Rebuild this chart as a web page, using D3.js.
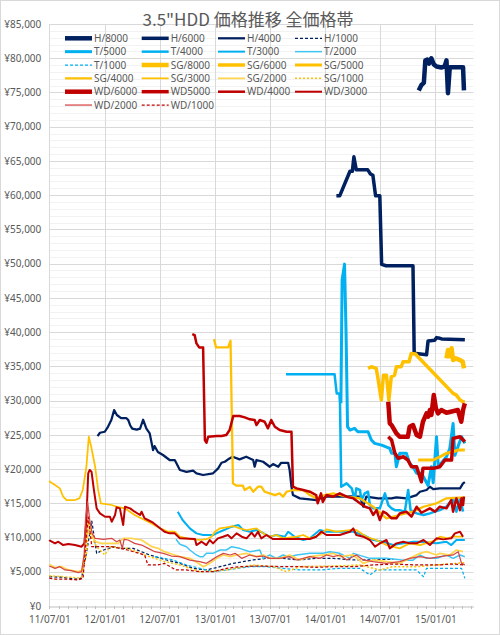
<!DOCTYPE html>
<html><head><meta charset="utf-8">
<script src="https://cdn.jsdelivr.net/npm/d3@7"></script>
<style>body{margin:0;background:#fff}svg{display:block}</style>
</head><body>
<script>
// ---- data: [date, price in yen] ----
const H8000=[["2014-11-07",75300],["2014-11-16",76100],["2014-11-24",76400],["2014-11-29",79700],["2014-12-05",79800],["2014-12-11",79200],["2014-12-19",80000],["2014-12-27",79100],["2015-01-05",78800],["2015-01-21",78650],["2015-02-01",78800],["2015-02-07",79700],["2015-02-12",74900],["2015-02-18",78700],["2015-04-03",78700],["2015-04-06",75300]];
const H6000=[["2014-02-07",59900],["2014-02-18",59900],["2014-03-24",63500],["2014-04-01",63500],["2014-04-06",65600],["2014-04-14",63700],["2014-05-22",63700],["2014-05-31",63100],["2014-06-08",62900],["2014-06-17",59900],["2014-07-01",59900],["2014-07-07",49900],["2014-07-22",49700],["2014-10-19",49700],["2014-10-23",36900],["2014-12-03",36700],["2014-12-08",38700],["2014-12-30",38800],["2015-01-05",39200],["2015-01-16",39100],["2015-01-22",39000],["2015-04-09",38900]];
const H4000=[["2011-12-08",24800],["2011-12-16",25300],["2012-01-01",25450],["2012-01-12",26200],["2012-01-23",27200],["2012-02-01",28600],["2012-02-10",27900],["2012-02-24",27450],["2012-03-12",27450],["2012-03-19",27150],["2012-03-25",26400],["2012-04-01",25900],["2012-04-16",25750],["2012-04-27",25900],["2012-05-07",27200],["2012-05-18",25900],["2012-05-29",25200],["2012-06-09",22780],["2012-06-14",23360],["2012-06-25",22500],["2012-07-12",22050],["2012-08-03",21320],["2012-08-20",21320],["2012-09-06",19860],["2012-09-28",19600],["2012-10-20",19760],["2012-10-31",19380],["2012-11-22",19130],["2012-12-25",19380],["2013-01-11",20100],["2013-01-22",20920],["2013-02-02",21070],["2013-02-13",21420],["2013-02-28",21800],["2013-03-23",21420],["2013-04-14",21800],["2013-05-07",21320],["2013-05-12",20340],["2013-05-18",21320],["2013-06-09",21070],["2013-07-01",20340],["2013-07-12",20730],["2013-07-29",20340],["2013-08-08",20920],["2013-08-31",20920],["2013-09-05",19860],["2013-09-11",17420],["2013-09-16",16200],["2013-10-09",15720],["2013-11-10",15570],["2013-12-02",15480],["2013-12-31",15960],["2014-01-25",15960],["2014-03-24",16000],["2014-04-26",15960],["2014-05-07",14500],["2014-05-17",15960],["2014-06-25",15720],["2014-08-09",15720],["2014-08-25",15870],["2014-09-27",15720],["2014-10-31",16200],["2014-11-11",16690],["2014-12-03",16940],["2014-12-14",17420],["2014-12-25",17060],["2015-01-16",17180],["2015-03-24",17180],["2015-04-03",17910],["2015-04-09",18100]];
const H1000=[["2011-07-01",4280],["2011-08-10",4200],["2011-10-05",3900],["2011-10-16",4100],["2011-11-01",7700],["2011-11-19",12400],["2011-12-05",7700],["2011-12-23",8100],["2012-01-12",8400],["2012-02-03",8660],["2012-02-25",8420],["2012-04-04",8420],["2012-05-29",7450],["2012-07-24",6720],["2012-09-06",6230],["2012-10-20",5500],["2012-12-03",5260],["2013-01-17",5740],["2013-03-02",6230],["2013-05-07",6720],["2013-06-20",6960],["2013-08-14",6960],["2013-10-09",6720],["2013-12-02",6960],["2014-01-28",6960],["2014-04-04",6720],["2014-05-17",6720],["2014-07-12",6810],["2014-08-15",6810]];
const T5000=[["2014-02-22",29600],["2014-02-26",47600],["2014-03-06",49930],["2014-03-11",40000],["2014-03-16",26180],["2014-03-24",25700],["2014-04-08",25950],["2014-04-19",25450],["2014-05-23",25450],["2014-06-03",24240],["2014-06-14",23750],["2014-07-07",23500],["2014-08-03",23020],["2014-08-09",22300],["2014-08-20",22300],["2014-08-25",20340],["2014-09-05",22300],["2014-09-27",22300],["2014-10-08",20830],["2014-10-19",20340],["2014-10-31",19380],["2014-11-16",19380],["2014-11-27",18500],["2014-12-08",17600],["2014-12-19",20340],["2014-12-25",18000],["2015-01-05",24720],["2015-01-11",20340],["2015-02-07",21800],["2015-02-18",23000],["2015-03-01",26670],["2015-03-07",22000],["2015-03-29",24720],["2015-04-09",23750]];
const T4000=[["2013-08-24",33830],["2014-02-01",33830],["2014-02-08",31050],["2014-02-17",31050],["2014-02-19",29590],["2014-02-23",17420],["2014-03-13",17910],["2014-03-30",17180],["2014-04-09",15480],["2014-04-14",17180],["2014-04-26",16940],["2014-05-01",15480],["2014-05-12",16450],["2014-05-23",16690],["2014-05-29",14750],["2014-06-09",14260],["2014-07-01",14260],["2014-07-18",16450],["2014-07-29",14750],["2014-08-09",14260],["2014-08-20",14000],["2014-09-05",14000],["2014-09-22",13780],["2014-10-03",16940],["2014-10-11",14000],["2014-10-31",13530],["2014-11-23",13290],["2014-12-14",13530],["2014-12-31",13780],["2015-01-16",14000],["2015-02-07",14500],["2015-03-01",15720],["2015-03-12",13780],["2015-03-24",15720],["2015-04-03",13780]];
const T3000=[["2012-08-30",13780],["2012-09-15",12560],["2012-10-09",11340],["2012-10-31",10610],["2012-11-22",10370],["2012-12-25",10370],["2013-01-17",10850],["2013-02-20",11490],["2013-03-19",11830],["2013-04-04",11100],["2013-04-26",10850],["2013-05-18",11100],["2013-06-09",10660],["2013-07-01",10120],["2013-07-23",10370],["2013-08-20",10120],["2013-08-31",10850],["2013-09-22",10120],["2013-10-20",9640],["2013-11-11",9880],["2013-12-14",11100],["2014-01-05",10850],["2014-02-18",10850],["2014-04-04",10850],["2014-05-07",10370],["2014-06-09",9640],["2014-07-12",9390],["2014-08-14",8900],["2014-09-17",9150],["2014-10-19",9390],["2014-11-11",9390],["2015-01-05",9150],["2015-02-07",9390],["2015-02-23",8900],["2015-03-12",9640],["2015-04-09",9640]];
const T2000=[["2012-08-24",9740],["2012-09-06",9020],["2012-09-28",8660],["2012-10-09",8180],["2012-10-31",7450],["2012-11-11",7200],["2012-11-22",7200],["2012-12-03",7690],["2012-12-25",7690],["2013-01-17",8180],["2013-02-07",8180],["2013-02-25",8660],["2013-03-23",8420],["2013-04-26",7930],["2013-05-29",8180],["2013-06-09",6960],["2013-07-01",7450],["2013-07-23",6960],["2013-08-14",7450],["2013-09-05",7200],["2013-09-28",7450],["2013-11-11",7690],["2013-12-25",7690],["2014-01-16",7930],["2014-02-18",7690],["2014-03-24",6960],["2014-04-04",7690],["2014-05-29",6960],["2014-07-23",6960],["2014-09-17",6700],["2014-10-19",6700],["2014-11-11",7450],["2014-12-03",6960],["2015-01-05",6960],["2015-02-07",7450],["2015-03-01",6960],["2015-03-24",7450],["2015-04-09",7200]];
const T1000=[["2012-06-15",7200],["2012-08-14",6720],["2012-09-28",5990],["2012-11-11",5500],["2012-12-25",5010],["2013-02-07",5260],["2013-04-26",5740],["2013-06-20",5740],["2013-08-14",5500],["2013-10-09",5260],["2013-12-14",5260],["2014-02-18",5500],["2014-04-26",5500],["2014-05-29",4530],["2014-06-20",5260],["2014-09-05",5260],["2014-10-31",5260],["2014-11-23",4280],["2014-12-03",5500],["2015-03-01",5500],["2015-03-29",5500],["2015-04-09",4040]];
const SG8000=[["2015-02-07",36170],["2015-02-12",37390],["2015-02-20",36500],["2015-02-24",37630],["2015-03-01",35920],["2015-03-10",36170],["2015-03-24",35920],["2015-04-02",35670],["2015-04-06",34700]];
const SG6000=[["2014-05-23",34700],["2014-06-03",34940],["2014-06-19",34700],["2014-06-24",33480],["2014-07-06",30080],["2014-07-13",33700],["2014-07-23",33700],["2014-07-31",30080],["2014-08-08",33480],["2014-08-19",33700],["2014-08-25",34940],["2014-09-10",34940],["2014-09-16",35670],["2014-10-06",35670],["2014-10-13",36890],["2014-10-28",36790],["2014-11-02",36500],["2015-03-01",31050],["2015-03-12",30800],["2015-03-24",30080],["2015-04-03",29830],["2015-04-09",29830]];
const SG5000=[["2014-11-05",21320],["2014-12-25",21320],["2015-01-16",21800],["2015-02-07",22300],["2015-03-01",22530],["2015-03-18",22780],["2015-04-09",22780]];
const SG4000=[["2012-12-28",38980],["2013-01-04",37770],["2013-02-13",37770],["2013-02-21",38740],["2013-03-01",17910],["2013-03-12",17570],["2013-04-03",17570],["2013-04-09",16940],["2013-04-26",17400],["2013-05-07",16690],["2013-05-23",17420],["2013-06-03",17420],["2013-06-14",16690],["2013-07-01",16450],["2013-07-18",16200],["2013-08-03",16450],["2013-08-14",15960],["2013-08-26",16690],["2013-09-16",16940],["2013-10-20",16940],["2013-11-11",16200],["2013-12-02",15720],["2013-12-31",16200],["2014-01-28",16450],["2014-03-13",15960],["2014-04-26",15720],["2014-06-09",14500],["2014-07-23",12800],["2014-09-05",13290],["2014-10-19",13780],["2014-11-23",14500],["2015-01-05",15000],["2015-02-07",15720],["2015-04-09",15870]];
const SG3000=[["2011-07-01",18300],["2011-07-03",18150],["2011-07-20",17670],["2011-08-05",17180],["2011-08-16",15960],["2011-08-27",15480],["2011-09-24",15480],["2011-10-09",15720],["2011-10-20",16940],["2011-11-01",20340],["2011-11-09",24720],["2011-11-17",23260],["2011-11-30",20340],["2011-12-10",16940],["2011-12-19",14990],["2012-01-24",14750],["2012-02-09",14500],["2012-03-08",14260],["2012-04-09",13290],["2012-05-12",12560],["2012-06-04",12050],["2012-06-26",11490],["2012-07-29",10850],["2012-08-20",10850],["2012-09-06",10120],["2012-10-09",9760],["2012-11-11",9640],["2012-12-03",9760],["2012-12-20",10120],["2012-12-31",10850],["2013-01-17",11340],["2013-02-07",11490],["2013-03-02",11680],["2013-03-23",11340],["2013-04-15",11100],["2013-05-18",11340],["2013-06-09",10610],["2013-07-01",10120],["2013-07-23",10370],["2013-08-14",9880],["2013-09-28",10120],["2013-10-20",10370],["2013-11-11",9880],["2013-12-14",10400],["2014-01-05",11200],["2014-02-07",10850],["2014-03-24",11100],["2014-04-14",11100],["2014-05-17",10120],["2014-06-19",9640],["2014-07-23",8900],["2014-09-05",8420],["2014-10-08",9150],["2014-11-11",8900],["2015-01-05",9640],["2015-01-16",10120],["2015-02-12",9880],["2015-03-01",10120],["2015-04-03",10120]];
const SG2000=[["2011-07-01",6080],["2011-07-20",5600],["2011-08-11",5740],["2011-09-02",5260],["2011-10-05",5010],["2011-10-18",5260],["2011-10-27",7690],["2011-11-08",12500],["2011-11-19",10500],["2011-11-30",9390],["2011-12-21",9150],["2012-02-14",9150],["2012-03-02",9880],["2012-03-30",9880],["2012-05-02",9640],["2012-06-05",8660],["2012-06-26",8420],["2012-07-17",7930],["2012-08-20",7450],["2012-09-06",7200],["2012-10-09",6960],["2012-11-06",6230],["2012-11-23",5740],["2012-12-14",6230],["2013-01-06",6960],["2013-01-28",7450],["2013-02-20",7200],["2013-03-13",7450],["2013-04-15",7690],["2013-05-18",7200],["2013-06-09",7450],["2013-07-01",6960],["2013-08-03",6960],["2013-09-05",7450],["2013-10-09",6720],["2013-11-11",7200],["2013-12-25",7450],["2014-01-28",7690],["2014-02-18",7200],["2014-04-04",7450],["2014-05-07",6230],["2014-06-09",6720],["2014-07-23",6470],["2014-09-05",6230],["2014-10-08",6960],["2014-11-11",7690],["2014-12-03",7930],["2015-01-05",7450],["2015-01-16",7690],["2015-02-18",7450],["2015-03-12",8180],["2015-04-03",7930]];
const SG1000=[["2011-07-01",4400],["2011-08-10",4300],["2011-10-05",4100],["2011-10-16",4200],["2011-11-01",7500],["2011-11-07",11100],["2011-11-19",10000],["2011-12-05",8660],["2012-01-01",7450],["2012-01-18",8660],["2012-03-17",8420],["2012-05-12",7450],["2012-07-17",6500],["2012-09-06",6000],["2012-11-11",5010],["2013-02-07",5260],["2013-05-07",5990],["2013-07-12",5740],["2013-08-26",5010],["2013-10-09",5740],["2014-01-28",5840],["2014-04-26",5990],["2014-07-01",5260],["2014-08-13",5740],["2014-10-31",5740],["2015-01-05",5990],["2015-04-09",6330]];
const WD6000=[["2014-07-29",29830],["2014-08-03",26680],["2014-08-09",26430],["2014-08-25",25210],["2014-09-05",24720],["2014-10-02",24720],["2014-10-08",26180],["2014-10-19",26430],["2014-10-31",24970],["2014-11-11",24720],["2014-11-21",26910],["2014-12-03",28140],["2014-12-08",27650],["2014-12-14",28620],["2014-12-19",27900],["2014-12-27",30810],["2015-01-03",28870],["2015-01-10",28130],["2015-01-21",28620],["2015-02-07",28220],["2015-03-17",28620],["2015-03-28",26910],["2015-04-03",28620],["2015-04-09",29600]];
const WD5000=[["2014-07-29",24720],["2014-08-09",24240],["2014-08-20",22300],["2014-08-31",21570],["2014-09-17",21800],["2014-10-02",21320],["2014-10-14",20340],["2014-10-31",20340],["2014-11-16",18150],["2014-11-21",20100],["2014-12-25",20100],["2015-01-16",20340],["2015-02-02",21320],["2015-02-24",21320],["2015-03-01",24480],["2015-03-24",24720],["2015-04-09",23990]];
const WD4000=[["2012-10-17",39710],["2012-10-25",39560],["2012-10-31",38350],["2012-11-09",37770],["2012-11-22",37770],["2012-11-28",24240],["2012-12-03",23840],["2012-12-09",24720],["2013-01-06",24820],["2013-01-22",24820],["2013-02-07",24970],["2013-02-18",25700],["2013-03-02",27740],["2013-03-23",27740],["2013-04-09",27550],["2013-04-26",27260],["2013-05-12",27160],["2013-05-18",26430],["2013-05-29",27160],["2013-06-14",26910],["2013-06-25",25950],["2013-07-06",27160],["2013-07-18",26180],["2013-08-03",25700],["2013-08-26",25450],["2013-09-11",25450],["2013-09-16",17420],["2013-09-28",17180],["2013-10-20",16940],["2013-11-11",16690],["2013-12-02",16200],["2013-12-07",15000],["2013-12-18",16450],["2013-12-24",15200],["2014-01-05",16200],["2014-01-28",15960],["2014-02-18",16450],["2014-03-13",15960],["2014-04-04",15720],["2014-04-26",15000],["2014-05-13",14500],["2014-05-29",14260],["2014-06-09",13290],["2014-06-20",14000],["2014-07-01",12560],["2014-07-12",13780],["2014-07-23",13530],["2014-08-09",12800],["2014-08-25",12800],["2014-09-05",13530],["2014-09-27",13780],["2014-10-14",13050],["2014-10-31",14500],["2014-11-16",13620],["2014-12-14",14260],["2014-12-31",13780],["2015-01-16",14500],["2015-02-07",14260],["2015-02-23",15480],["2015-03-01",13780],["2015-03-12",15720],["2015-03-24",14000],["2015-03-29",15720],["2015-04-03",14750],["2015-04-06",15960]];
const WD3000=[["2011-07-01",9640],["2011-07-03",9540],["2011-07-20",9150],["2011-07-31",9390],["2011-08-16",8900],["2011-09-02",9050],["2011-09-24",8900],["2011-10-16",8660],["2011-10-25",9150],["2011-11-01",12560],["2011-11-07",19380],["2011-11-12",19860],["2011-11-18",19620],["2011-11-26",16940],["2011-12-05",14260],["2011-12-16",13530],["2012-01-02",13040],["2012-01-18",13040],["2012-01-24",12310],["2012-02-04",13290],["2012-02-09",14410],["2012-02-20",14260],["2012-03-02",11830],["2012-03-08",14500],["2012-03-25",14260],["2012-04-09",13770],["2012-04-27",13290],["2012-05-02",13770],["2012-05-12",12800],["2012-05-23",12560],["2012-06-09",12160],["2012-06-26",11580],["2012-07-17",10850],["2012-08-03",10610],["2012-08-20",10610],["2012-09-06",9880],["2012-10-26",9780],["2012-10-31",8900],["2012-11-17",9390],["2012-12-03",8900],["2012-12-14",9640],["2012-12-25",9150],["2013-01-10",9880],["2013-01-27",10120],["2013-02-12",10370],["2013-02-24",9880],["2013-03-13",10610],["2013-03-30",10120],["2013-04-15",9880],["2013-05-02",10710],["2013-05-12",10120],["2013-05-23",10850],["2013-06-03",9880],["2013-06-20",10370],["2013-07-12",9780],["2013-08-14",9780],["2013-09-28",9780],["2013-11-11",9780],["2013-12-02",10120],["2013-12-19",10850],["2014-01-05",10370],["2014-02-18",10370],["2014-03-24",10850],["2014-04-04",11340],["2014-04-14",10370],["2014-05-07",10120],["2014-05-29",9640],["2014-06-15",8660],["2014-07-01",9150],["2014-07-23",9640],["2014-08-03",8420],["2014-08-25",9150],["2014-09-17",9390],["2014-10-08",9150],["2014-10-31",9150],["2014-11-23",9640],["2014-12-14",8900],["2015-01-05",9880],["2015-01-27",9730],["2015-02-23",9880],["2015-03-07",10610],["2015-03-24",10850],["2015-04-03",10120]];
const WD2000=[["2011-07-01",5840],["2011-07-20",5500],["2011-08-05",5740],["2011-08-22",5260],["2011-09-12",5160],["2011-10-05",4870],["2011-10-16",5010],["2011-10-25",7690],["2011-10-29",12560],["2011-11-05",15230],["2011-11-12",12560],["2011-11-20",10610],["2011-11-30",9880],["2011-12-27",9740],["2012-01-24",9880],["2012-02-09",9390],["2012-02-20",9640],["2012-02-28",8420],["2012-03-05",9740],["2012-03-18",9640],["2012-04-09",9150],["2012-05-02",8900],["2012-05-24",8420],["2012-06-15",7930],["2012-07-13",7690],["2012-08-09",7300],["2012-09-06",7200],["2012-10-09",6700],["2012-11-11",6470],["2012-12-03",6230],["2012-12-20",6700],["2013-01-06",7200],["2013-01-28",7690],["2013-02-20",7450],["2013-03-08",7690],["2013-03-30",6960],["2013-04-26",7450],["2013-05-18",7200],["2013-06-09",7300],["2013-07-01",6960],["2013-08-03",6960],["2013-09-05",7200],["2013-09-28",6720],["2013-10-20",6960],["2013-11-11",7200],["2013-12-14",6960],["2014-01-05",7450],["2014-01-28",7200],["2014-02-18",7450],["2014-03-13",6720],["2014-04-14",7450],["2014-05-07",6720],["2014-06-09",6470],["2014-07-23",6230],["2014-09-05",6470],["2014-10-08",6960],["2014-11-11",7200],["2014-12-14",6960],["2015-01-16",7200],["2015-03-01",7450],["2015-03-18",7930],["2015-03-29",6230],["2015-04-09",6000]];
const WD1000=[["2011-07-01",4080],["2011-07-20",3940],["2011-08-22",3940],["2011-10-05",3800],["2011-10-21",4040],["2011-11-01",10120],["2011-11-07",13000],["2011-11-19",8660],["2011-11-30",8660],["2012-01-24",8660],["2012-03-17",8180],["2012-05-12",7450],["2012-05-23",5990],["2012-06-25",5990],["2012-07-17",6230],["2012-08-24",5260],["2012-09-28",5260],["2012-11-11",5010],["2012-12-25",5010],["2013-02-07",5500],["2013-03-23",5740],["2013-05-29",5840],["2013-08-14",5740],["2013-10-09",5740],["2013-12-02",5650],["2014-01-28",5740],["2014-04-04",5740],["2014-06-09",5990],["2014-08-13",6130],["2014-10-31",5990],["2015-01-05",5990],["2015-03-01",6130],["2015-04-09",5990]];

const seriesNames=["H/8000","H/6000","H/4000","H/1000","T/5000","T/4000","T/3000","T/2000","T/1000","SG/8000","SG/6000","SG/5000","SG/4000","SG/3000","SG/2000","SG/1000","WD/6000","WD5000","WD/4000","WD/3000","WD/2000","WD/1000"];
const seriesValues=[H8000,H6000,H4000,H1000,T5000,T4000,T3000,T2000,T1000,SG8000,SG6000,SG5000,SG4000,SG3000,SG2000,SG1000,WD6000,WD5000,WD4000,WD3000,WD2000,WD1000];
const yTickValues=[0,5000,10000,15000,20000,25000,30000,35000,40000,45000,50000,55000,60000,65000,70000,75000,80000,85000];
const xTickDates=["2011-07-01","2012-01-01","2012-07-01","2013-01-01","2013-07-01","2014-01-01","2014-07-01","2015-01-01"];
const titleText='3.5"HDD 価格推移 全価格帯';

// ---- styles ----
const NAVY="#002060",BLUE="#00B0F0",GOLD="#FFC000",RED="#C00000";
const styles=[
 {c:NAVY,w:4.5},{c:NAVY,w:3.5},{c:NAVY,w:2.25},{c:NAVY,w:1.25,d:"3,2"},
 {c:BLUE,w:3},{c:BLUE,w:2.5},{c:BLUE,w:2},{c:"#3FC5F3",w:1.5},{c:BLUE,w:1.25,d:"3,2"},
 {c:GOLD,w:4.5},{c:GOLD,w:3.5},{c:GOLD,w:3},{c:GOLD,w:2.25},{c:GOLD,w:1.75},{c:"#FFD54F",w:1.75},{c:GOLD,w:1.5,d:"2,2"},
 {c:RED,w:4.5},{c:RED,w:3.5},{c:RED,w:2.5},{c:RED,w:2},{c:"#D64545",w:1.25},{c:RED,w:1.25,d:"3,2"}
];

const W=500,H=635;
const parse=d3.timeParse("%Y-%m-%d");
const x=d3.scaleTime().domain([parse("2011-07-01"),parse("2015-05-07")]).range([49.3,473.3]);
const y=d3.scaleLinear().domain([0,85000]).range([606,24]);

const svg=d3.select("body").append("svg").attr("width",W).attr("height",H)
  .style("font-family","'Noto Sans',sans-serif");
svg.append("rect").attr("x",0.5).attr("y",0.5).attr("width",W-1).attr("height",H-1)
  .attr("fill","#fff").attr("stroke","#D9D9D9");

const [x0,x1]=x.range();
// minor horizontal gridlines
svg.append("g").selectAll("line").data(d3.range(1000,85001,1000).filter(v=>v%5000))
  .join("line").attr("x1",x0).attr("x2",x1).attr("y1",d=>Math.round(y(d))+0.5).attr("y2",d=>Math.round(y(d))+0.5)
  .attr("stroke","#F2F2F2");
// major horizontal gridlines
svg.append("g").selectAll("line").data(yTickValues.filter(v=>v>0))
  .join("line").attr("x1",x0).attr("x2",x1).attr("y1",d=>Math.round(y(d))+0.5).attr("y2",d=>Math.round(y(d))+0.5)
  .attr("stroke","#D9D9D9");
// vertical gridlines
svg.append("g").selectAll("line").data(xTickDates.map(parse))
  .join("line").attr("x1",d=>Math.round(x(d))+0.5).attr("x2",d=>Math.round(x(d))+0.5).attr("y1",y(85000)).attr("y2",y(0))
  .attr("stroke","#D9D9D9");

// x axis
const xAxis=d3.axisBottom(x).tickValues(xTickDates.map(parse)).tickFormat(d3.timeFormat("%y/%m/%d")).tickSize(0).tickPadding(9);
const gx=svg.append("g").attr("transform",`translate(0,${Math.round(y(0))+0.5})`).call(xAxis);
gx.select(".domain").attr("stroke","#BFBFBF");
gx.selectAll("text").attr("fill","#595959").attr("font-size","10px").style("font-family","'Noto Sans',sans-serif");
// minor monthly ticks
svg.append("g").selectAll("line").data(d3.timeMonth.range(parse("2011-07-01"),parse("2015-05-07")))
  .join("line").attr("x1",d=>Math.round(x(d))+0.5).attr("x2",d=>Math.round(x(d))+0.5)
  .attr("y1",Math.round(y(0))).attr("y2",Math.round(y(0))+3).attr("stroke","#BFBFBF");

// y axis
const yAxis=d3.axisLeft(y).tickValues(yTickValues).tickFormat(v=>"¥"+d3.format(",")(v)).tickSize(0).tickPadding(8);
const gy=svg.append("g").attr("transform",`translate(${x0},0)`).call(yAxis);
gy.select(".domain").remove();
gy.selectAll("text").attr("fill","#595959").attr("font-size","10px").style("font-family","'Noto Sans',sans-serif");

// lines
const line=d3.line().x(d=>x(parse(d[0]))).y(d=>y(d[1]));
const gl=svg.append("g");
seriesValues.forEach((s,i)=>{
  const st=styles[i];
  gl.append("path").datum(s).attr("d",line).attr("fill","none")
    .attr("stroke",st.c).attr("stroke-width",st.w).attr("stroke-linejoin","round")
    .attr("stroke-dasharray",st.d||null);
});

// title
svg.append("text").attr("x",248).attr("y",26).attr("text-anchor","middle")
  .attr("fill","#595959").attr("font-size","17px").style("font-family","'Noto Sans CJK JP',sans-serif")
  .text(titleText);

// legend
const colX=[65,141.7,218,295], rowY0=38.3, rowH=13.35;
const lg=svg.append("g");
seriesNames.forEach((n,i)=>{
  const cx=colX[i%4], cy=rowY0+Math.floor(i/4)*rowH, st=styles[i];
  lg.append("line").attr("x1",cx).attr("x2",cx+27).attr("y1",cy).attr("y2",cy)
    .attr("stroke",st.c).attr("stroke-width",st.w).attr("stroke-dasharray",st.d||null);
  lg.append("text").attr("x",cx+29).attr("y",cy).attr("dy","0.35em")
    .attr("fill","#595959").attr("font-size","10px").text(n);
});
</script>
</body></html>
